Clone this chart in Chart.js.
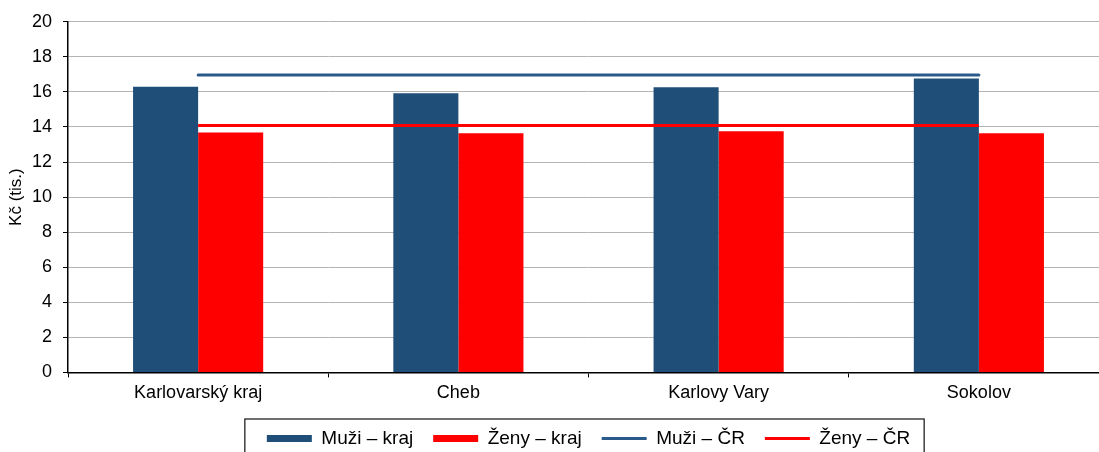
<!DOCTYPE html>
<html>
<head>
<meta charset="utf-8">
<script src="https://cdn.jsdelivr.net/npm/chart.js@4"></script>
<style>
  html, body { margin: 0; padding: 0; background: #fff; overflow: hidden; width: 1099px; height: 452px; }
  #wrap { width: 1112px; height: 458px; }
</style>
</head>
<body>
<div id="wrap"><canvas id="graf" width="1112" height="458"></canvas></div>
<script>
const kategorie = ['Karlovarský kraj', 'Cheb', 'Karlovy Vary', 'Sokolov'];
const muziKraj = [16.3, 15.92, 16.26, 16.77];
const zenyKraj = [13.68, 13.64, 13.75, 13.64];
const muziCR = [16.96, 16.96, 16.96, 16.96];
const zenyCR = [14.09, 14.09, 14.09, 14.09];
const yTicks = [0, 2, 4, 6, 8, 10, 12, 14, 16, 18, 20];

const modra = '#1f4e79';
const cervena = '#ff0000';

Chart.defaults.font.family = '"Liberation Sans", Arial, sans-serif';
Chart.defaults.color = '#000';

// ramecek kolem legendy
const ramecekLegendy = {
    id: 'ramecekLegendy',
    afterDraw(chart) {
        const hb = chart.legend.legendHitBoxes;
        if (!hb || !hb.length) return;
        const last = hb[hb.length - 1];
        const left = hb[0].left - 22;
        const right = last.left + last.width + 14;
        const top = hb[0].top - 10;
        const ctx = chart.ctx;
        ctx.save();
        ctx.strokeStyle = '#222';
        ctx.lineWidth = 1.3;
        ctx.strokeRect(left, top, right - left, 60);
        ctx.restore();
    }
};

const data = {
    labels: kategorie,
    datasets: [{
        label: 'Muži – kraj',
        data: muziKraj,
        backgroundColor: modra,
        order: 2
    }, {
        label: 'Ženy – kraj',
        data: zenyKraj,
        backgroundColor: cervena,
        order: 2
    }, {
        type: 'line',
        label: 'Muži – ČR',
        data: muziCR,
        borderColor: '#2a5a8a',
        borderWidth: 3,
        pointRadius: 0,
        borderCapStyle: 'round',
        order: 1
    }, {
        type: 'line',
        label: 'Ženy – ČR',
        data: zenyCR,
        borderColor: cervena,
        borderWidth: 3,
        pointRadius: 0,
        order: 1
    }]
};

const config = {
    type: 'bar',
    data: data,
    options: {
        responsive: false,
        animation: false,
        devicePixelRatio: 1,
        layout: { padding: { top: 17.5, right: 3, bottom: 0, left: 0 } },
        datasets: {
            bar: { categoryPercentage: 0.5, barPercentage: 1 }
        },
        scales: {
            x: {
                grid: {
                    drawOnChartArea: false,
                    tickLength: 5,
                    tickColor: '#000',
                    offset: true
                },
                border: { color: '#000', width: 1.5 },
                ticks: { font: { size: 18 }, padding: 5, color: '#000' }
            },
            y: {
                min: 0,
                max: 20,
                afterBuildTicks(scale) {
                    scale.ticks = yTicks.map(v => ({ value: v }));
                },
                afterFit(scale) {
                    scale.width = 68;
                },
                grid: {
                    color: '#b4b4b4',
                    tickLength: 5,
                    tickColor: '#000'
                },
                border: { color: '#000', width: 1.5 },
                ticks: { font: { size: 18 }, padding: 11, color: '#000' },
                title: {
                    display: true,
                    text: 'Kč (tis.)',
                    font: { size: 17 },
                    color: '#000',
                    padding: { top: 6, bottom: 0 }
                }
            }
        },
        plugins: {
            tooltip: { enabled: false },
            legend: {
                position: 'bottom',
                fullSize: false,
                labels: {
                    usePointStyle: true,
                    pointStyleWidth: 45,
                    boxHeight: 7,
                    padding: 20,
                    color: '#000',
                    font: { size: 19 },
                    generateLabels(chart) {
                        return chart.data.datasets.map((ds, i) => {
                            const jeCara = ds.type === 'line';
                            return {
                                text: ds.label,
                                datasetIndex: i,
                                fillStyle: jeCara ? ds.borderColor : ds.backgroundColor,
                                strokeStyle: jeCara ? ds.borderColor : ds.backgroundColor,
                                lineWidth: jeCara ? 3 : 0,
                                pointStyle: jeCara ? 'line' : 'rect',
                                fontColor: '#000',
                                hidden: false
                            };
                        });
                    }
                }
            }
        }
    },
    plugins: [ramecekLegendy]
};

const graf = new Chart(document.getElementById('graf'), config);
</script>
</body>
</html>
